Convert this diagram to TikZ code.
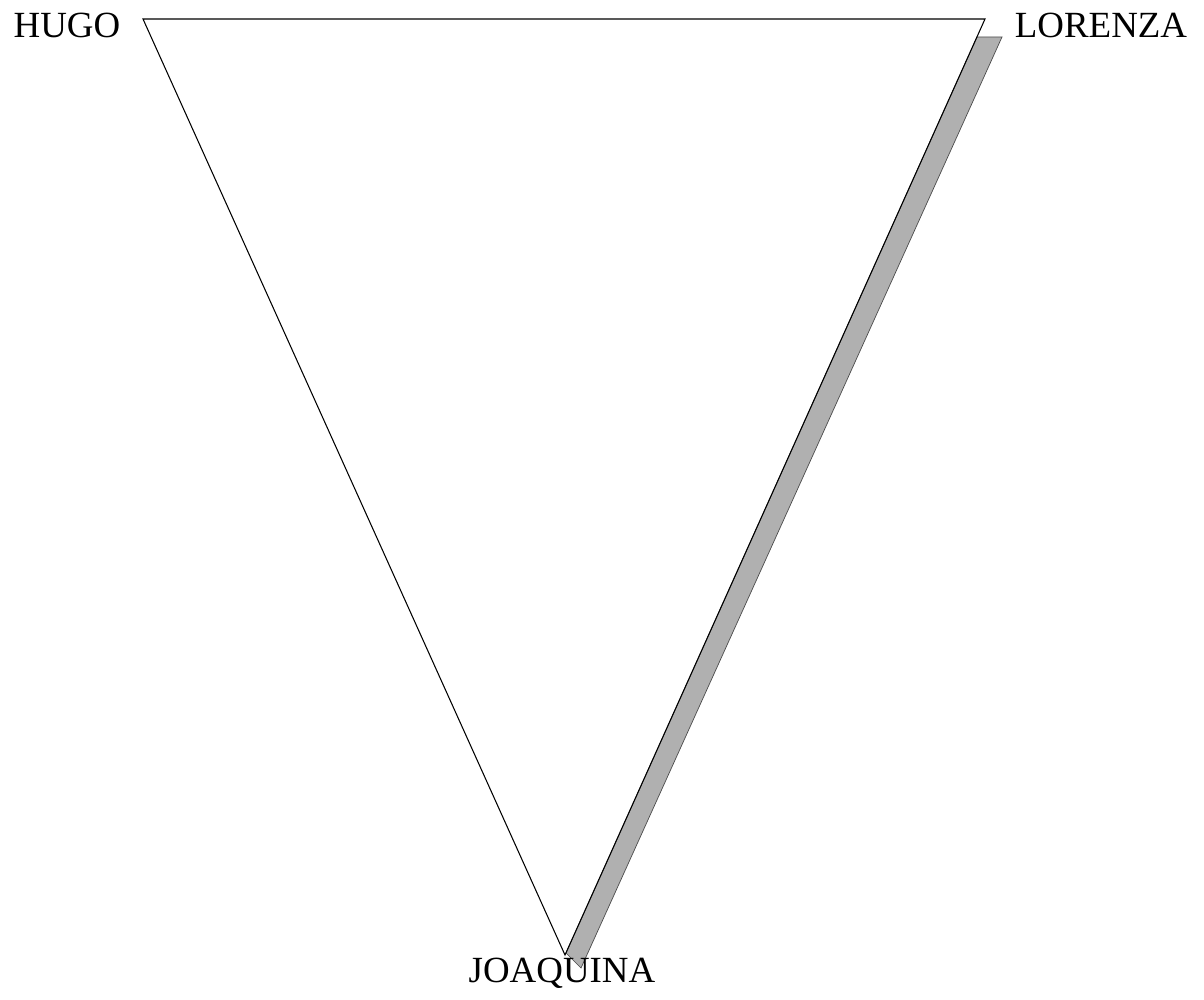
\documentclass[tikz,border=0pt]{standalone}
\usepackage{fontspec}
\setmainfont{Liberation Serif}
\begin{document}
\begin{tikzpicture}[x=.02cm,y=-.02cm,lbl/.style={font=\fontsize{21}{25}\selectfont,inner sep=0pt}]
  \useasboundingbox (0,0) rectangle (1204,1000);
  \coordinate (H) at (143,19); \coordinate (L) at (985,19); \coordinate (J) at (565,955);
  \fill[gray!62,draw=gray!60!black,line width=.4pt] (977,37)--(1002,37)--(581,968)--(566,953)--cycle;
  \draw[line width=.6pt] (H)--(L)--(J)--cycle;
  \node[lbl] (hugo) at (67,25) {HUGO}; \node[lbl] (lorenza) at (1101,25) {LORENZA};
  \node[lbl] (joaquina) at (562,973) {JOAQUINA};
\end{tikzpicture}
\end{document}
